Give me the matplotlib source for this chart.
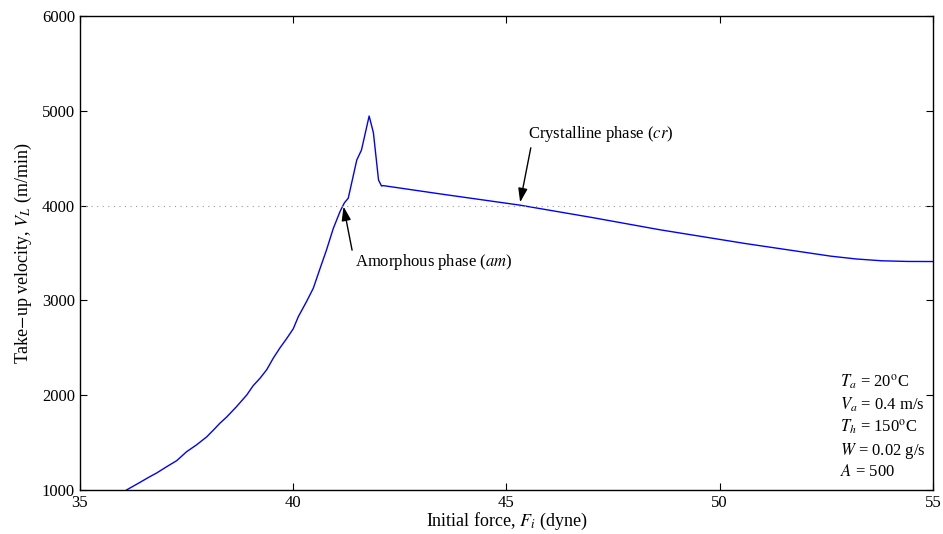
import matplotlib as mpl
mpl.use('Agg')
import matplotlib.pyplot as plt

# initial force (dyne) vs take-up velocity (m/min)
force = [36.09, 36.37, 36.64, 36.8, 37.03, 37.27, 37.5, 37.73, 37.97, 38.13, 38.28,
         38.44, 38.67, 38.91, 39.06, 39.22, 39.38, 39.53, 39.69, 39.85, 40.0, 40.12,
         40.31, 40.47, 40.63, 40.78, 40.94, 41.10, 41.2, 41.29, 41.49, 41.60, 41.78,
         41.88, 42.0, 42.07, 42.11, 43.5, 45.3, 47.0, 48.6, 50.6, 52.6, 53.2, 53.8,
         54.4, 55.0]
velocity = [1000, 1071, 1141, 1180, 1245, 1310, 1404, 1475, 1560, 1633, 1704,
            1770, 1879, 2002, 2100, 2178, 2270, 2389, 2500, 2600, 2700, 2829,
            2986, 3128, 3338, 3532, 3760, 3940, 4030, 4078, 4481, 4586, 4945,
            4768, 4270, 4207, 4211, 4120, 4006, 3875, 3745, 3600, 3467, 3437, 3418,
            3411, 3410]
crit_velocity = 4000

params = [r'$T_a$ = 20$^{\rm o}$C',
          r'$V_a$ = 0.4 m/s',
          r'$T_h$ = 150$^{\rm o}$C',
          r'$W$ = 0.02 g/s',
          r'$A$ = 500']

plt.rcParams['font.family'] = ['Liberation Serif', 'DejaVu Serif']
plt.rcParams['mathtext.fontset'] = 'stix'
plt.rcParams['font.size'] = 12

fig = plt.figure(figsize=(9.43, 5.34), dpi=100)
ax = fig.add_axes([0.0848, 0.0824, 0.9046, 0.8876])

ax.plot(force, velocity, color='#0000ff', lw=1.0)
ax.axhline(crit_velocity, color='#999999', lw=0.8, ls=(0, (1, 4)))

ax.set_xlim(35, 55)
ax.set_ylim(1000, 6000)
ax.set_xticks([35, 40, 45, 50, 55])
ax.set_yticks([1000, 2000, 3000, 4000, 5000, 6000])
ax.tick_params(direction='in', top=True, right=True, length=5, labelsize=12)
for s in ax.spines.values():
    s.set_linewidth(1.0)

ax.set_xlabel(r'Initial force, $F_i$ (dyne)', fontsize=13, labelpad=0)
ax.set_ylabel(r'Take$-$up velocity, $V_L$ (m/min)', fontsize=13, labelpad=6)

arrow = dict(arrowstyle='-|>,head_length=0.6,head_width=0.2', color='black',
             lw=1.0, mutation_scale=14, shrinkA=0, shrinkB=0)
ax.text(45.5, 4755, r'Crystalline phase ($cr$)', fontsize=12, va='center', ha='left')
ax.annotate('', xy=(45.32, 4035), xytext=(45.57, 4610), arrowprops=arrow)
ax.annotate('', xy=(41.18, 3990), xytext=(41.38, 3530), arrowprops=arrow)
ax.text(41.45, 3405, r'Amorphous phase ($am$)', fontsize=12, va='center', ha='left')

ax.text(52.82, 1110, '\n'.join(params), fontsize=12, va='bottom', ha='left',
        linespacing=1.25)

fig.savefig('out.png', dpi=100)
